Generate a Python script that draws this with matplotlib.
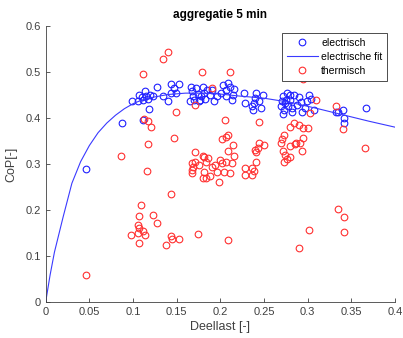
import matplotlib
matplotlib.use("Agg")
import matplotlib.pyplot as plt

plt.rcParams.update({
    "font.family": ["Liberation Sans", "DejaVu Sans"],
    "font.size": 8,
    "axes.linewidth": 0.6,
})

GRAY = "#404040"

# electrisch (blue circles)
elec_x = [0.046, 0.087, 0.111, 0.118, 0.099, 0.106, 0.107, 0.112, 0.114, 0.117,
          0.120, 0.123, 0.110, 0.115, 0.128, 0.134, 0.140, 0.144, 0.153, 0.147,
          0.149, 0.144, 0.165, 0.166, 0.167, 0.169, 0.172, 0.174, 0.175, 0.178,
          0.180, 0.181, 0.183, 0.185, 0.188, 0.190, 0.193, 0.196, 0.201, 0.203,
          0.206, 0.207, 0.209, 0.211, 0.213, 0.215, 0.216, 0.170, 0.177, 0.227,
          0.228, 0.236, 0.237, 0.240, 0.241, 0.244, 0.246, 0.249, 0.238, 0.272,
          0.274, 0.273, 0.272, 0.276, 0.278, 0.280, 0.282, 0.284, 0.275, 0.270,
          0.271, 0.280, 0.282, 0.288, 0.290, 0.292, 0.293, 0.297, 0.299, 0.301,
          0.304, 0.307, 0.332, 0.335, 0.341, 0.342, 0.342, 0.367]
elec_y = [0.290, 0.389, 0.396, 0.419, 0.437, 0.436, 0.450, 0.439, 0.458, 0.441,
          0.450, 0.447, 0.445, 0.448, 0.467, 0.448, 0.436, 0.474, 0.474, 0.465,
          0.455, 0.455, 0.436, 0.468, 0.458, 0.447, 0.465, 0.452, 0.436, 0.447,
          0.468, 0.454, 0.441, 0.461, 0.450, 0.461, 0.436, 0.448, 0.454, 0.471,
          0.447, 0.461, 0.476, 0.468, 0.439, 0.450, 0.463, 0.439, 0.440, 0.455,
          0.433, 0.426, 0.417, 0.443, 0.454, 0.436, 0.421, 0.450, 0.433, 0.447,
          0.432, 0.417, 0.409, 0.454, 0.425, 0.439, 0.414, 0.450, 0.440, 0.425,
          0.437, 0.450, 0.421, 0.428, 0.445, 0.434, 0.414, 0.421, 0.436, 0.450,
          0.441, 0.417, 0.414, 0.414, 0.417, 0.401, 0.389, 0.421]

# electrische fit
fit_x = [0, 0.005, 0.01, 0.02, 0.03, 0.04, 0.05, 0.06, 0.07, 0.08, 0.09, 0.10,
         0.11, 0.12, 0.14, 0.16, 0.18, 0.20, 0.22, 0.25, 0.28, 0.31, 0.34, 0.37, 0.40]
fit_y = [0, 0.058, 0.108, 0.185, 0.258, 0.305, 0.340, 0.368, 0.389, 0.406, 0.420,
         0.431, 0.439, 0.444, 0.451, 0.454, 0.454, 0.452, 0.448, 0.443, 0.434,
         0.421, 0.407, 0.393, 0.380]

# thermisch (red circles)
therm_x = [0.046, 0.086, 0.112, 0.134, 0.140, 0.113, 0.117, 0.121, 0.117, 0.116,
           0.149, 0.147, 0.144, 0.109, 0.107, 0.123, 0.128, 0.106, 0.107, 0.111,
           0.098, 0.106, 0.114, 0.107, 0.143, 0.145, 0.153, 0.138, 0.174, 0.209,
           0.290, 0.301, 0.335, 0.342, 0.342, 0.171, 0.179, 0.211, 0.191, 0.205,
           0.244, 0.207, 0.209, 0.202, 0.214, 0.209, 0.216, 0.171, 0.167, 0.169,
           0.171, 0.181, 0.184, 0.186, 0.181, 0.180, 0.188, 0.194, 0.200, 0.202,
           0.207, 0.213, 0.196, 0.204, 0.211, 0.199, 0.167, 0.168, 0.184, 0.190,
           0.228, 0.236, 0.228, 0.236, 0.238, 0.241, 0.244, 0.250, 0.241, 0.240,
           0.243, 0.273, 0.270, 0.272, 0.274, 0.276, 0.280, 0.287, 0.271, 0.273,
           0.295, 0.309, 0.303, 0.333, 0.340, 0.366, 0.280, 0.284, 0.290, 0.295,
           0.300, 0.295, 0.291, 0.286, 0.293, 0.280, 0.180, 0.175]
therm_y = [0.059, 0.317, 0.496, 0.529, 0.544, 0.398, 0.394, 0.381, 0.343, 0.285,
           0.414, 0.357, 0.235, 0.210, 0.186, 0.188, 0.171, 0.168, 0.160, 0.155,
           0.145, 0.149, 0.145, 0.128, 0.144, 0.137, 0.136, 0.123, 0.147, 0.135,
           0.118, 0.156, 0.202, 0.185, 0.153, 0.429, 0.500, 0.500, 0.466, 0.396,
           0.392, 0.359, 0.362, 0.354, 0.341, 0.329, 0.317, 0.327, 0.302, 0.294,
           0.305, 0.316, 0.305, 0.312, 0.283, 0.270, 0.274, 0.298, 0.309, 0.302,
           0.305, 0.302, 0.283, 0.283, 0.281, 0.261, 0.280, 0.287, 0.269, 0.293,
           0.291, 0.291, 0.276, 0.275, 0.285, 0.325, 0.346, 0.341, 0.305, 0.330,
           0.335, 0.362, 0.345, 0.329, 0.320, 0.310, 0.338, 0.345, 0.355, 0.305,
           0.485, 0.438, 0.410, 0.425, 0.376, 0.334, 0.381, 0.389, 0.385, 0.378,
           0.378, 0.357, 0.345, 0.344, 0.329, 0.315, 0.318, 0.298]

fig = plt.figure(figsize=(4.03, 3.38), dpi=100)
ax = fig.add_axes([0.1134, 0.107, 0.8667, 0.816])

ax.plot(elec_x, elec_y, linestyle="none", marker="o", markersize=4.8,
        markerfacecolor="none", markeredgecolor="#2020ff", markeredgewidth=0.8,
        label="electrisch")
ax.plot(fit_x, fit_y, color="#3a3aff", linewidth=0.8, label="electrische fit")
ax.plot(therm_x, therm_y, linestyle="none", marker="o", markersize=4.8,
        markerfacecolor="none", markeredgecolor="#ff3030", markeredgewidth=0.8,
        label="thermisch")

ax.set_xlim(0, 0.4)
ax.set_ylim(0, 0.6)
ax.set_xticks([0, 0.05, 0.1, 0.15, 0.2, 0.25, 0.3, 0.35, 0.4])
ax.set_xticklabels(["0", "0.05", "0.1", "0.15", "0.2", "0.25", "0.3", "0.35", "0.4"])
ax.set_yticks([0, 0.1, 0.2, 0.3, 0.4, 0.5, 0.6])
ax.set_yticklabels(["0", "0.1", "0.2", "0.3", "0.4", "0.5", "0.6"])

for side in ["top", "right"]:
    ax.spines[side].set_visible(False)
for side in ["left", "bottom"]:
    ax.spines[side].set_color(GRAY)
ax.tick_params(direction="in", length=3, width=0.6, colors=GRAY, labelsize=8)

ax.set_xlabel("Deellast [-]", fontsize=9, color=GRAY, labelpad=3)
ax.set_ylabel("CoP[-]", fontsize=9, color=GRAY, labelpad=6)
ax.set_title("aggregatie 5 min", fontsize=8.5, fontweight="bold", pad=6)

leg = ax.legend(loc="upper right", bbox_to_anchor=(0.977, 0.975), borderaxespad=0,
                fontsize=7.5, fancybox=False, framealpha=1, edgecolor="#303030",
                handlelength=3.0, handletextpad=0.3, borderpad=0.45,
                labelspacing=0.4)
leg.get_frame().set_linewidth(0.6)

fig.savefig("out.png", dpi=100)
